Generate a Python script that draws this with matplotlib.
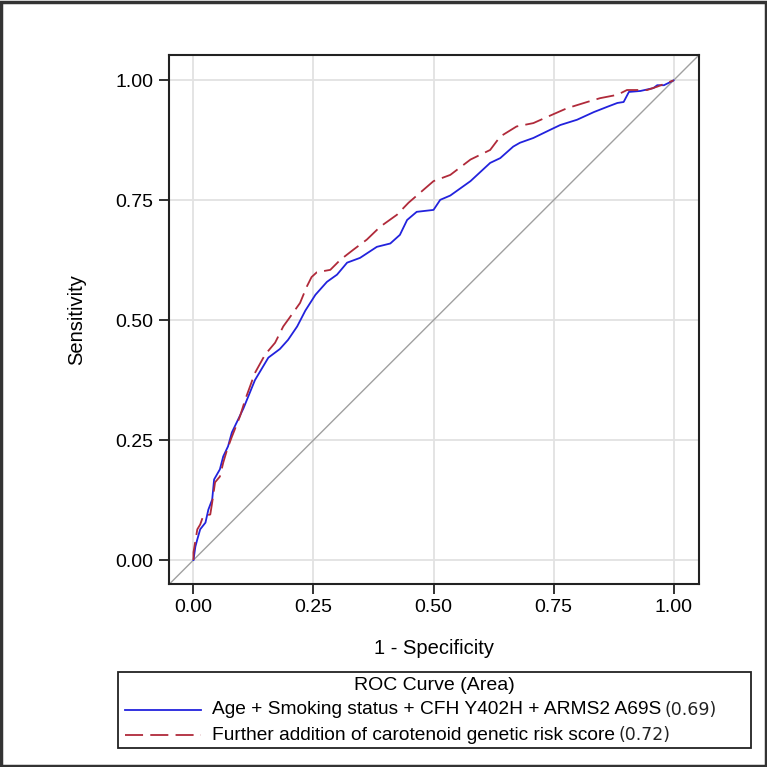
import numpy as np
import matplotlib
matplotlib.use("Agg")
import matplotlib.pyplot as plt
from matplotlib.patches import Rectangle
from matplotlib.lines import Line2D

# ROC points (1 - specificity, sensitivity)
base_fpr = [0.0, 0.004, 0.008, 0.014, 0.025, 0.031, 0.039, 0.043, 0.055, 0.062, 0.072, 0.080,
            0.093, 0.104, 0.128, 0.156, 0.180, 0.197, 0.216, 0.233, 0.254, 0.278, 0.299, 0.320,
            0.347, 0.382, 0.410, 0.430, 0.445, 0.465, 0.500, 0.514, 0.535, 0.577, 0.618, 0.639,
            0.666, 0.680, 0.708, 0.743, 0.764, 0.799, 0.834, 0.862, 0.883, 0.896, 0.907, 0.931,
            0.958, 0.966, 0.980, 1.0]
base_tpr = [0.0, 0.028, 0.043, 0.064, 0.078, 0.105, 0.126, 0.168, 0.189, 0.216, 0.237, 0.266,
            0.293, 0.316, 0.375, 0.422, 0.440, 0.459, 0.487, 0.520, 0.553, 0.580, 0.595, 0.620,
            0.630, 0.653, 0.660, 0.678, 0.709, 0.726, 0.730, 0.751, 0.760, 0.790, 0.828, 0.838,
            0.862, 0.870, 0.880, 0.897, 0.907, 0.918, 0.934, 0.945, 0.953, 0.955, 0.976, 0.978,
            0.984, 0.990, 0.990, 1.0]

grs_fpr = [0.0, 0.0, 0.008, 0.014, 0.020, 0.035, 0.039, 0.045, 0.055, 0.062, 0.070, 0.080,
           0.097, 0.108, 0.128, 0.149, 0.170, 0.187, 0.200, 0.222, 0.236, 0.246, 0.257, 0.285,
           0.306, 0.333, 0.361, 0.389, 0.424, 0.448, 0.500, 0.535, 0.577, 0.618, 0.639, 0.673,
           0.708, 0.737, 0.778, 0.820, 0.847, 0.883, 0.903, 0.945, 0.966, 0.986, 1.0]
grs_tpr = [0.0, 0.016, 0.064, 0.074, 0.091, 0.095, 0.120, 0.162, 0.174, 0.203, 0.230, 0.257,
           0.300, 0.335, 0.390, 0.428, 0.453, 0.487, 0.505, 0.536, 0.570, 0.590, 0.600, 0.605,
           0.626, 0.647, 0.668, 0.695, 0.720, 0.745, 0.790, 0.803, 0.835, 0.855, 0.883, 0.904,
           0.911, 0.924, 0.942, 0.955, 0.963, 0.970, 0.980, 0.980, 0.987, 0.995, 1.0]

labels = ["Age + Smoking status + CFH Y402H + ARMS2 A69S",
          "Further addition of carotenoid genetic risk score"]
areas = ["(0.69)", "(0.72)"]
ticks = [0.0, 0.25, 0.5, 0.75, 1.0]
tick_labels = ["0.00", "0.25", "0.50", "0.75", "1.00"]

blue = "#2222DD"
red = "#B02A3A"
W = 767.0

plt.rcParams['font.family'] = ['Liberation Sans', 'DejaVu Sans']

fig = plt.figure(figsize=(7.67, 7.67), dpi=100)
ax = fig.add_axes([168.5 / W, 1 - 584 / W, 530.5 / W, 529 / W])

ax.plot([-0.052, 1.053], [-0.052, 1.053], color="#A0A0A0", lw=1.0, zorder=2)
ax.plot(base_fpr, base_tpr, color=blue, lw=1.3, zorder=3)
ax.plot(grs_fpr, grs_tpr, color=red, lw=1.3, dashes=(10, 4), zorder=4)

ax.set_xlim(-0.052, 1.053)
ax.set_ylim(-0.05, 1.053)
ax.set_xticks(ticks)
ax.set_xticklabels(tick_labels)
ax.set_yticks(ticks)
ax.set_yticklabels(tick_labels)
ax.grid(True, color="#E2E2E2", lw=1.3)
ax.set_axisbelow(True)
ax.tick_params(length=7, width=1.3, labelsize=14, pad=4, color="#222222")
for s in ax.spines.values():
    s.set_linewidth(1.5)
    s.set_color("#222222")
ax.set_xlabel("1 - Specificity", fontsize=14.5, labelpad=16)
ax.set_ylabel("Sensitivity", fontsize=14.5, labelpad=21)

# legend box drawn by hand, like the original
fig.add_artist(Rectangle((118 / W, 1 - 748 / W), 633 / W, 76 / W, transform=fig.transFigure,
                         fill=False, edgecolor="#222222", lw=1.3))
fig.text(434.5 / W, 1 - 686 / W, "ROC Curve (Area)", ha="center", va="center", fontsize=14)
rows_y = [710, 735]
styles = [dict(color=blue, lw=1.3), dict(color=red, lw=1.3, dashes=(10, 4))]
fig.canvas.draw()
r = fig.canvas.get_renderer()
for lab, area, yy, st in zip(labels, areas, rows_y, styles):
    fig.add_artist(Line2D([125 / W, 201 / W], [1 - yy / W, 1 - yy / W],
                          transform=fig.transFigure, **st))
    t = fig.text(212 / W, 1 - yy / W, lab, ha="left", va="center", fontsize=13.8)
    bb = t.get_window_extent(renderer=r)
    fig.text((bb.x1 + 3) / W, 1 - yy / W, area, ha="left", va="center", fontsize=12.5,
             family="DejaVu Sans", color="#222222")

# outer frame
fig.add_artist(Rectangle((0.001, 0.001), 0.998, 0.997, transform=fig.transFigure,
                         fill=False, edgecolor="#333333", lw=2.5))

fig.savefig("out.png", dpi=100)
